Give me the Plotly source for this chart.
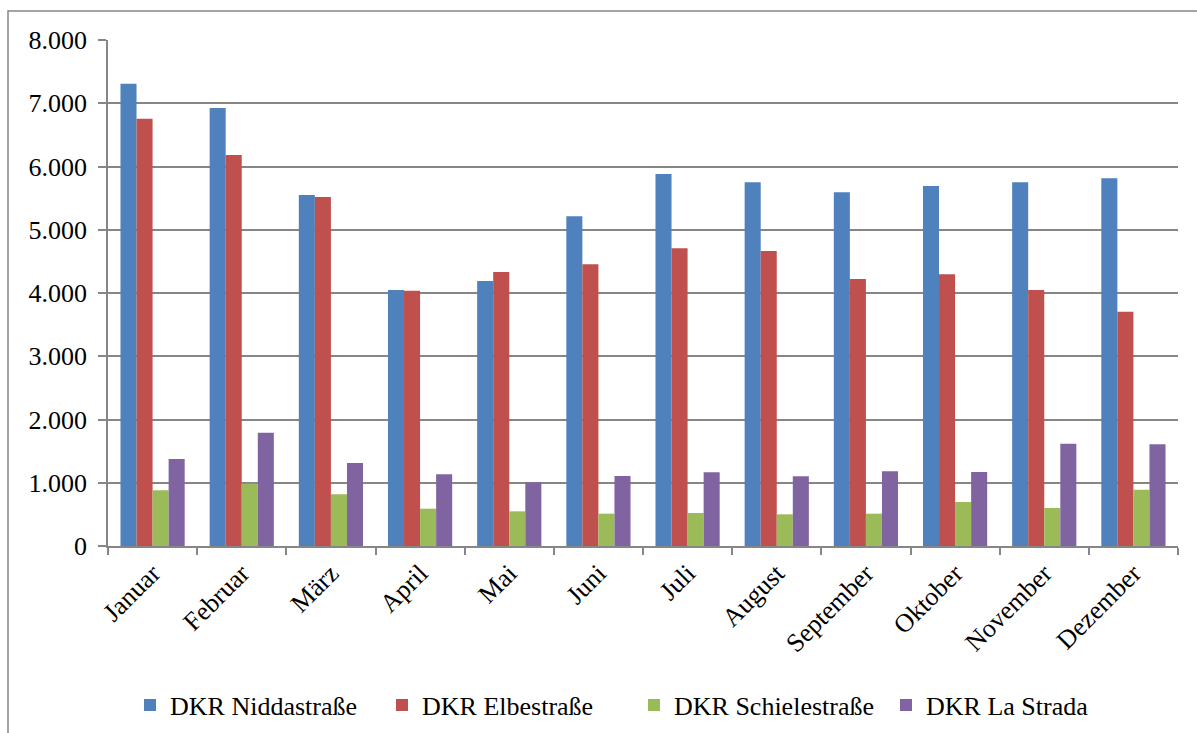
import plotly.graph_objects as go

# Monthly figures per location
months = ["Januar", "Februar", "März", "April", "Mai", "Juni", "Juli",
          "August", "September", "Oktober", "November", "Dezember"]

niddastrasse = [7310, 6925, 5550, 4047, 4190, 5212, 5881, 5750, 5592, 5692, 5750, 5813]
elbestrasse = [6756, 6182, 5518, 4036, 4332, 4453, 4707, 4664, 4221, 4295, 4047, 3704]
schielestrasse = [880, 985, 817, 590, 548, 511, 522, 501, 511, 696, 601, 890]
la_strada = [1375, 1792, 1312, 1133, 1007, 1107, 1165, 1102, 1181, 1170, 1617, 1608]

series_names = ["DKR Niddastraße", "DKR Elbestraße", "DKR Schielestraße", "DKR La Strada"]
series_values = [niddastrasse, elbestrasse, schielestrasse, la_strada]
series_colors = ["#4F81BD", "#C0504D", "#9BBB59", "#8064A2"]

y_ticks = [0, 1000, 2000, 3000, 4000, 5000, 6000, 7000, 8000]

FONT = "Liberation Serif"
GRAY = "#868686"

fig = go.Figure()
for name, vals, col in zip(series_names, series_values, series_colors):
    fig.add_trace(go.Bar(
        x=months, y=vals, name=name,
        marker=dict(color=col, line=dict(width=0)),
    ))

W, H = 1197, 733
ml, mr, mt, mb = 108, 19, 40, 187
pw = W - ml - mr
ph = H - mt - mb

fig.update_layout(
    width=W, height=H,
    margin=dict(l=ml, r=mr, t=mt, b=mb, pad=0),
    paper_bgcolor="white",
    plot_bgcolor="white",
    barmode="group",
    bargap=0.28,
    bargroupgap=0,
    separators=",.",
    font=dict(family=FONT, size=26, color="black"),
    legend=dict(
        orientation="h",
        xref="paper", x=(130 - ml) / pw, xanchor="left",
        yref="container", y=1 - 705 / H, yanchor="middle",
        font=dict(family=FONT, size=26, color="black"),
        itemwidth=30,
        entrywidth=207, entrywidthmode="pixels",
        traceorder="normal",
    ),
    xaxis=dict(
        type="category",
        range=[-0.5, 11.5],
        tickangle=-45,
        tickfont=dict(family=FONT, size=26, color="black"),
        showline=True, linecolor=GRAY, linewidth=1.5,
        ticks="outside", tickson="boundaries", ticklen=7,
        tickcolor=GRAY, tickwidth=1.5,
        showgrid=False,
    ),
    yaxis=dict(
        range=[0, 8000],
        tickvals=y_ticks,
        tickformat=",d",
        tickfont=dict(family=FONT, size=26, color="black"),
        showline=True, linecolor=GRAY, linewidth=1.5,
        ticks="outside", ticklen=8, tickcolor=GRAY, tickwidth=1.5,
        showgrid=True, gridcolor=GRAY, gridwidth=1.5,
        zeroline=False,
        ticklabelstandoff=6,
    ),
)

# Chart-area frame (left and top edges visible, the rest runs off the page)
fig.add_shape(
    type="rect", xref="paper", yref="paper",
    x0=(8 - ml) / pw, x1=(W + 10 - ml) / pw,
    y0=-(H + 10 - (H - mb)) / ph, y1=1 + (mt - 11) / ph,
    line=dict(color=GRAY, width=1.5), fillcolor="rgba(0,0,0,0)",
    layer="below",
)

fig.write_html("out.html")
